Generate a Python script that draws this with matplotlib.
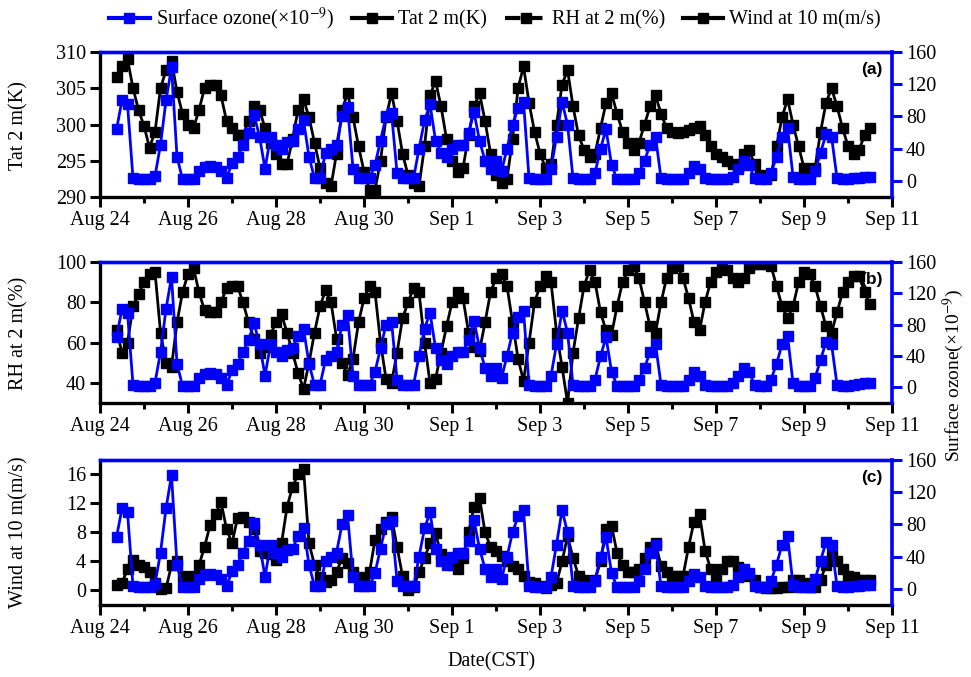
import numpy as np
import matplotlib
matplotlib.use("Agg")
import matplotlib.pyplot as plt
from matplotlib.lines import Line2D

plt.rcParams['font.family'] = ['Liberation Serif', 'DejaVu Serif']
plt.rcParams['mathtext.fontset'] = 'stix'

# ---------------- data (3-hourly, starting Aug 24 09:00 CST) ----------------
start_hour = 9
step_hours = 3

temperature = [
    306.5, 308, 309, 305, 302,
    299.8, 296.8, 299, 305, 307.5, 308.8, 304.5, 301.5,
    300, 299.5, 302, 305, 305.5, 305.5, 304, 300.5,
    299.5, 298.5, 298.5, 300.5, 302.5, 302, 299.5, 297.5,
    296, 294.5, 294.5, 298, 302, 303.5, 301, 297.5,
    294, 292, 291.5, 296, 302, 304.3, 301, 297,
    293.5, 291, 291, 295, 301, 304.3, 300.5, 296,
    293, 292, 291.5, 297, 304, 306, 302.5, 298,
    295, 293.5, 294, 298.5, 302.5, 304.3, 300.5, 296,
    293, 292, 292.5, 298, 305, 308, 303, 299,
    296, 294, 294.5, 300, 305.5, 307.5, 302.5, 298.5,
    296.5, 295.5, 296, 299.5, 303, 304.3, 301.5, 299,
    297.5, 296.5, 297.5, 300, 302.5, 304, 301.5, 299.5,
    299, 298.8, 299, 299.3, 299.5, 299.8, 298.5, 297,
    296, 295.5, 295, 294.5, 294.2, 296, 296.5, 294.5,
    293, 292.8, 293, 297, 301, 303.5, 300, 297,
    294, 293.3, 294, 299, 303, 305, 302.5, 299.5,
    297, 296, 296.5, 298.5, 299.5,
]

rh = [
    66, 55, 60, 78, 84,
    90, 94, 95, 65, 50, 48, 70, 85,
    94, 97, 85, 76, 75, 75, 80, 87,
    88, 88, 80, 70, 62, 55, 58, 64,
    70, 74, 65, 55, 45, 37, 50, 65,
    78, 86, 80, 62, 50, 44, 52, 70,
    82, 88, 85, 60, 42, 40, 55, 72,
    80, 87, 85, 60, 40, 42, 55, 68,
    80, 85, 82, 65, 58, 56, 70, 85,
    92, 94, 88, 70, 52, 41, 60, 80,
    88, 93, 90, 65, 48, 30, 55, 72,
    88, 96, 90, 75, 66, 64, 78, 90,
    96, 98, 92, 80, 68, 65, 80, 92,
    97, 98, 92, 82, 70, 66, 80, 90,
    95, 97, 96, 92, 90, 92, 97, 99,
    99, 99, 98, 88, 78, 72, 78, 90,
    95, 94, 88, 78, 68, 65, 75, 85,
    90, 93, 93, 85, 79,
]

wind = [
    0.7, 1.0, 3.0, 4.2, 3.5,
    3.2, 2.5, 1.0, 0.2, 0.3, 3.5, 4.0, 2.0,
    1.8, 2.0, 3.5, 6.0, 9.0, 10.5, 12.2, 8.5,
    6.5, 10.0, 10.2, 9.5, 8.5, 5.5, 5.2, 5.0,
    4.2, 6.5, 11.5, 14.3, 16.0, 16.8, 6.5, 3.5,
    1.8, 1.2, 1.5, 2.5, 4.5, 3.8, 2.5, 1.8,
    1.0, 2.5, 7.0, 8.5, 9.5, 10.2, 6.0, 2.0,
    0.0, 0.5, 2.5, 4.5, 6.5, 7.9, 5.0, 4.0,
    3.5, 3.0, 4.5, 8.0, 11.5, 12.8, 8.0, 6.0,
    5.5, 4.8, 4.0, 3.4, 3.0, 2.0, 1.2, 1.0,
    0.6, 0.4, 0.8, 1.0, 4.0, 7.5, 4.5, 2.0,
    1.5, 1.2, 1.5, 4.0, 8.5, 8.9, 5.2, 3.5,
    2.5, 2.5, 3.0, 4.5, 6.0, 6.5, 3.4, 2.5,
    2.0, 2.0, 2.0, 6.0, 9.5, 10.5, 5.5, 3.0,
    2.0, 3.0, 4.0, 4.0, 3.2, 2.5, 2.0, 1.5,
    0.5, 0.4, 0.3, 0.3, 0.5, 0.5, 1.5, 1.5,
    1.0, 0.5, 0.5, 1.5, 3.5, 4.8, 4.0, 3.0,
    2.0, 1.8, 1.5, 1.5, 1.5,
]

ozone = [
    64, 100, 95, 3, 2,
    2, 2, 6, 45, 100, 141, 30, 2,
    2, 2, 12, 17, 18, 17, 12, 3,
    22, 30, 45, 60, 82, 55, 15, 55,
    45, 40, 48, 50, 65, 75, 30, 3,
    3, 35, 40, 45, 80, 92, 15, 3,
    3, 3, 20, 50, 80, 84, 10, 3,
    3, 3, 40, 75, 95, 50, 35, 30,
    40, 45, 45, 60, 85, 50, 25, 15,
    25, 12, 40, 70, 90, 98, 3, 2,
    2, 2, 15, 55, 98, 70, 3, 2,
    2, 2, 10, 40, 64, 20, 2, 2,
    2, 2, 10, 25, 45, 55, 3, 2,
    2, 2, 2, 10, 19, 15, 3, 2,
    2, 2, 2, 5, 15, 25, 20, 3,
    2, 2, 10, 30, 55, 66, 5, 2,
    2, 2, 12, 35, 58, 55, 3, 2,
    2, 3, 4, 5, 5,
]

date_labels = ["Aug 24", "Aug 26", "Aug 28", "Aug 30", "Sep 1",
               "Sep 3", "Sep 5", "Sep 7", "Sep 9", "Sep 11"]
panel_names = ["(a)", "(b)", "(c)"]
left_labels = ["Tat 2 m(K)", "RH at 2 m(%)", "Wind at 10 m(m/s)"]
left_ticks = [[290, 295, 300, 305, 310], [40, 60, 80, 100], [0, 4, 8, 12, 16]]
left_limits = [(290, 310), (30, 100), (-2, 18)]
ozone_ticks = [0, 40, 80, 120, 160]
legend_labels = ["Surface ozone(\u00d710$^{-9}$)", "Tat 2 m(K)", "RH at 2 m(%)", "Wind at 10 m(m/s)"]

# ---------------- figure ----------------
t = (start_hour + step_hours * np.arange(len(ozone))) / 24.0
BLUE = "#0000ff"
fig = plt.figure(figsize=(9.71, 6.77), dpi=100)
rects = [(0.103, 0.709, 0.8157, 0.2142),
         (0.103, 0.4047, 0.8157, 0.2083),
         (0.103, 0.1064, 0.8157, 0.2142)]
series = [temperature, rh, wind]
ylab_y = [0.815, 0.508, 0.214]

for i in range(3):
    ax = fig.add_axes(rects[i])
    ax.plot(t, series[i], color='k', lw=2.0, marker='s', ms=7, mec='k', mfc='k')
    ax.set_xlim(0, 18)
    ax.set_ylim(*left_limits[i])
    ax.set_yticks(left_ticks[i])
    ax.set_xticks(np.arange(0, 19, 2))
    ax.set_xticklabels(date_labels)
    ax.set_xticks(np.arange(0, 19, 1), minor=True)
    ax.tick_params(axis='both', which='major', direction='out', length=7, width=2.2,
                   labelsize=14.5, pad=3)
    ax.tick_params(axis='x', which='minor', direction='out', length=4, width=2.2)
    ax.spines['left'].set_linewidth(2.4)
    ax.spines['bottom'].set_linewidth(2.4)
    ax.spines['top'].set_color(BLUE)
    ax.spines['top'].set_linewidth(2.4)
    ax.spines['right'].set_visible(False)

    ax2 = ax.twinx()
    ax2.plot(t, ozone, color=BLUE, lw=2.0, marker='s', ms=7, mec=BLUE, mfc=BLUE)
    ax2.set_ylim(-20, 160)
    ax2.set_yticks(ozone_ticks)
    ax2.tick_params(axis='y', direction='out', length=7, width=2.2, color=BLUE,
                    labelcolor='k', labelsize=14.5, pad=3)
    ax2.spines['right'].set_color(BLUE)
    ax2.spines['right'].set_linewidth(2.6)
    ax2.spines['top'].set_color(BLUE)
    ax2.spines['top'].set_linewidth(2.4)
    ax2.spines['left'].set_visible(False)
    ax2.spines['bottom'].set_visible(False)

    ax2.text(0.988, 0.93, panel_names[i], transform=ax2.transAxes, ha='right', va='top',
             fontsize=12.5, fontweight='bold', family=['Liberation Sans', 'DejaVu Sans'])
    fig.text(0.019, ylab_y[i], left_labels[i], rotation=90, ha='center', va='center',
             fontsize=14.5)

fig.text(0.982, 0.445, "Surface ozone(\u00d710$^{-9}$)", rotation=90, ha='center',
         va='center', fontsize=14)
fig.text(0.506, 0.022, "Date(CST)", ha='center', va='center', fontsize=14.5)

handles = [
    Line2D([], [], color=BLUE, lw=3, marker='s', ms=7),
    Line2D([], [], color='k', lw=3, marker='s', ms=7),
    Line2D([], [], color='k', lw=3, ls='--', marker='s', ms=7),
    Line2D([], [], color='k', lw=3, marker='s', ms=7),
]
fig.legend(handles, legend_labels, loc='center', bbox_to_anchor=(0.51, 0.972), ncol=4,
           frameon=False, fontsize=14.5, handlelength=2.0, handletextpad=0.3,
           columnspacing=0.9, borderaxespad=0)

fig.savefig("out.png", dpi=100)
